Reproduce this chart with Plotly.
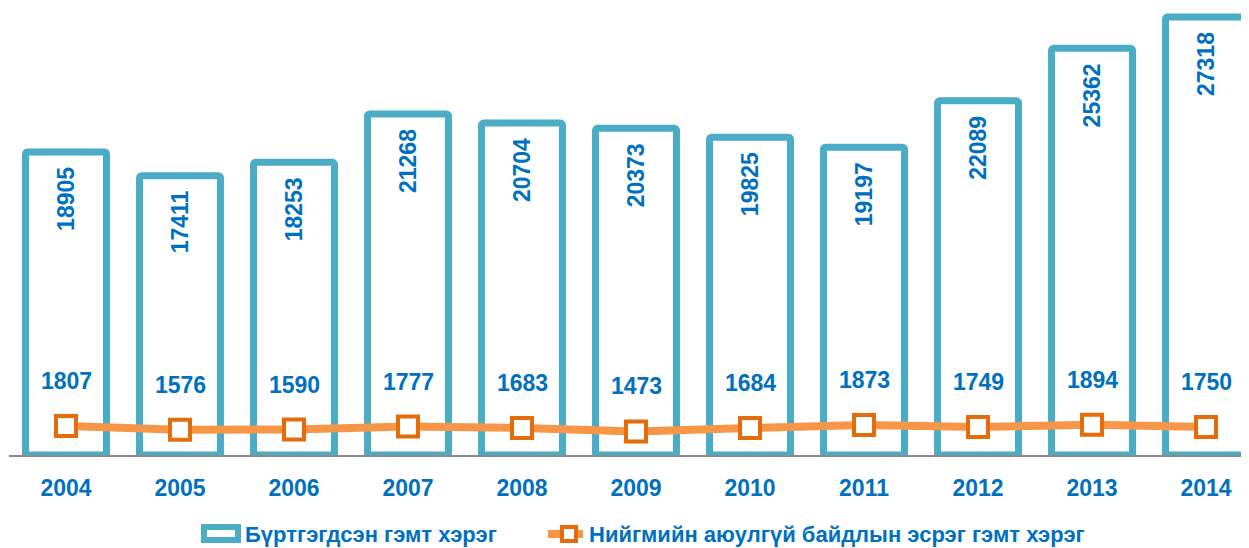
import plotly.graph_objects as go

years = ['2004', '2005', '2006', '2007', '2008', '2009', '2010', '2011', '2012', '2013', '2014']
registered = [18905, 17411, 18253, 21268, 20704, 20373, 19825, 19197, 22089, 25362, 27318]
public_safety = [1807, 1576, 1590, 1777, 1683, 1473, 1684, 1873, 1749, 1894, 1750]

name_bar = 'Бүртгэгдсэн гэмт хэрэг'
name_line = 'Нийгмийн аюулгүй байдлын эсрэг гэмт хэрэг'

blue_text = '#0070C0'
aqua = '#4BACC6'
orange = '#F79646'
dark_orange = '#E46C0A'
font_fam = 'Liberation Sans, Arial, sans-serif'

# the page body adds an 8px margin, so the figure is a bit smaller than the window
OFF = 8
W, H = 1249 - OFF, 548 - OFF
ML, MB = 1, 93
plot_w, plot_h = W - ML, H - MB


def px(x):
    # x in window pixels -> paper fraction
    return (x - OFF - ML) / plot_w


def py(y):
    return (plot_h - (y - OFF)) / plot_h


fig = go.Figure()
fig.add_trace(go.Bar(
    x=list(range(len(years))),
    y=registered,
    name=name_bar,
    width=0.71,
    marker=dict(color='white', line=dict(color=aqua, width=7), cornerradius=2),
))
fig.add_trace(go.Scatter(
    x=list(range(len(years))),
    y=public_safety,
    name=name_line,
    mode='lines+markers',
    line=dict(color=orange, width=8),
    marker=dict(symbol='square', size=20, color='white', line=dict(color=dark_orange, width=4)),
))

# rotated value labels inside the top of each bar
for i, v in enumerate(registered):
    fig.add_annotation(
        x=i, y=v, text=str(v), showarrow=False, textangle=-90,
        yanchor='top', yshift=-13,
        font=dict(family=font_fam, size=23, color=blue_text, weight='bold'),
    )

# labels for the line sit well above the markers
for i, v in enumerate(public_safety):
    fig.add_annotation(
        x=i, y=v, text=str(v), showarrow=False, yshift=45,
        font=dict(family=font_fam, size=23, color=blue_text, weight='bold'),
    )

# hand-drawn legend, Excel style
shapes = [
    dict(type='rect', xref='paper', yref='paper', x0=px(201), x1=px(241), y0=py(524), y1=py(543),
         fillcolor=aqua, line=dict(width=0)),
    dict(type='rect', xref='paper', yref='paper', x0=px(207), x1=px(235), y0=py(530), y1=py(537),
         fillcolor='white', line=dict(width=0)),
    dict(type='line', xref='paper', yref='paper', x0=px(548), x1=px(583), y0=py(534), y1=py(534),
         line=dict(color=orange, width=8)),
    dict(type='rect', xref='paper', yref='paper', x0=px(562), x1=px(576), y0=py(527), y1=py(541),
         fillcolor='white', line=dict(color=dark_orange, width=4)),
]
for xs, label in [(243, name_bar), (587, name_line)]:
    fig.add_annotation(
        xref='paper', yref='paper', x=px(xs), y=py(534), text=label, showarrow=False,
        xanchor='left', yanchor='middle',
        font=dict(family=font_fam, size=22, color=blue_text, weight='bold'),
    )

fig.update_layout(
    width=W,
    height=H,
    margin=dict(l=ML, r=0, t=0, b=MB, autoexpand=False),
    paper_bgcolor='white',
    plot_bgcolor='white',
    showlegend=False,
    shapes=shapes,
    xaxis=dict(
        range=[-0.5, 10.377],
        tickmode='array', tickvals=list(range(len(years))), ticktext=years,
        showline=True, linecolor='#8C8C8C', linewidth=1.5,
        showgrid=False, zeroline=False, ticks='', ticklabelstandoff=12,
        automargin=False,
        tickfont=dict(family=font_fam, size=23, color=blue_text, weight='bold'),
    ),
    yaxis=dict(range=[0, 447 / (438 / 27318)], visible=False, showgrid=False, zeroline=False),
)

fig.write_html("out.html")
